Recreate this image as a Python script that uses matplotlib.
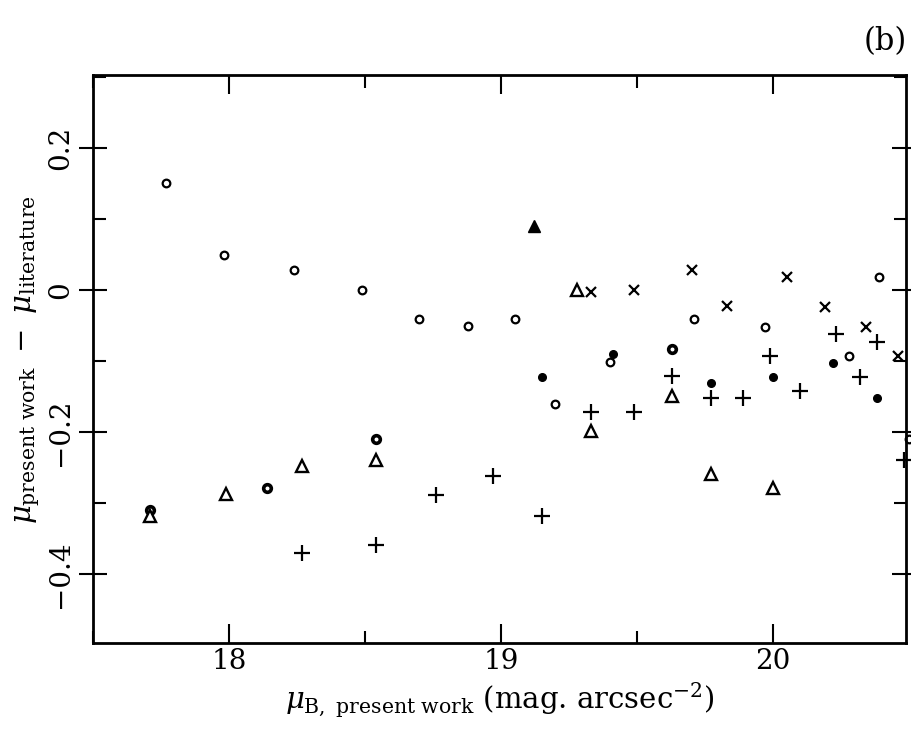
import numpy as np
import matplotlib
matplotlib.use("Agg")
import matplotlib.pyplot as plt
from matplotlib.ticker import MultipleLocator, FuncFormatter

plt.rcParams['font.family'] = 'DejaVu Serif'
plt.rcParams['mathtext.fontset'] = 'dejavuserif'

# open circles
circ_x = [17.77, 17.98, 18.24, 18.49, 18.70, 18.88, 19.05, 19.20, 19.40,
          19.71, 19.97, 20.28, 20.39, 20.50]
circ_y = [0.151, 0.050, 0.029, 0.000, -0.041, -0.051, -0.041, -0.160, -0.101,
          -0.041, -0.052, -0.092, 0.018, -0.210]

# thick-ringed circles
ring_x = [17.71, 18.14, 18.54, 19.63]
ring_y = [-0.310, -0.279, -0.209, -0.082]

# filled dots
dot_x = [19.15, 19.41, 19.77, 20.00, 20.22, 20.38]
dot_y = [-0.122, -0.090, -0.131, -0.122, -0.102, -0.151]

# open triangles
tri_x = [17.71, 17.99, 18.27, 18.54, 19.28, 19.33, 19.63, 19.77, 20.00]
tri_y = [-0.318, -0.287, -0.248, -0.239, 0.000, -0.198, -0.149, -0.258, -0.278]

# filled triangle
ftri_x = [19.12]
ftri_y = [0.090]

# plus signs
plus_x = [18.27, 18.54, 18.76, 18.97, 19.15, 19.33, 19.49, 19.63, 19.77,
          19.89, 19.99, 20.10, 20.23, 20.32, 20.38, 20.48]
plus_y = [-0.370, -0.359, -0.288, -0.261, -0.318, -0.171, -0.171, -0.120,
          -0.152, -0.152, -0.093, -0.142, -0.062, -0.122, -0.073, -0.239]

# crosses
cross_x = [19.33, 19.49, 19.70, 19.83, 20.05, 20.19, 20.34, 20.46]
cross_y = [-0.002, 0.000, 0.029, -0.022, 0.019, -0.023, -0.052, -0.093]

fig = plt.figure(figsize=(9.11, 7.36), dpi=100)
ax = fig.add_axes([0.102, 0.126, 0.893, 0.772])

k = dict(color='black', linestyle='none', clip_on=False)
ax.plot(circ_x, circ_y, marker='o', markersize=5.5, markerfacecolor='white',
        markeredgewidth=1.6, **k)
ax.plot(ring_x, ring_y, marker='o', markersize=5.5, markerfacecolor='white',
        markeredgewidth=2.6, **k)
ax.plot(dot_x, dot_y, marker='o', markersize=5.5, **k)
ax.plot(tri_x, tri_y, marker='^', markersize=8, markerfacecolor='white',
        markeredgewidth=1.7, **k)
ax.plot(ftri_x, ftri_y, marker='^', markersize=8, **k)
ax.plot(plus_x, plus_y, marker='+', markersize=11, markeredgewidth=1.6, **k)
ax.plot(cross_x, cross_y, marker='x', markersize=7.5, markeredgewidth=1.6, **k)

ax.set_xlim(17.5, 20.49)
ax.set_ylim(-0.497, 0.303)

ax.xaxis.set_major_locator(MultipleLocator(1))
ax.xaxis.set_minor_locator(MultipleLocator(0.5))
ax.yaxis.set_major_locator(MultipleLocator(0.2))
ax.yaxis.set_minor_locator(MultipleLocator(0.1))
ax.yaxis.set_major_formatter(FuncFormatter(
    lambda v, p: '0' if abs(v) < 1e-9 else f'{v:.1f}'.replace('-', '\u2212')))
ax.tick_params(which='both', direction='in', top=True, right=True, width=1.5)
ax.tick_params(which='major', length=14, labelsize=20)
ax.tick_params(which='minor', length=9)
ax.tick_params(axis='y', which='major', direction='inout', length=20)
for lab in ax.get_yticklabels():
    lab.set_rotation(90)
    lab.set_va('center')
for s in ax.spines.values():
    s.set_linewidth(2)

ax.set_xlabel(r'$\mu_{\rm B,\ present\ work}$ (mag. arcsec$^{-2}$)', fontsize=21, labelpad=4)
ax.set_ylabel(r'$\mu_{\rm present\ work}\ -\ \mu_{\rm literature}$', fontsize=21, labelpad=4)

fig.text(0.972, 0.943, '(b)', fontsize=22, ha='center', va='center')

fig.savefig('out.png', dpi=100)
